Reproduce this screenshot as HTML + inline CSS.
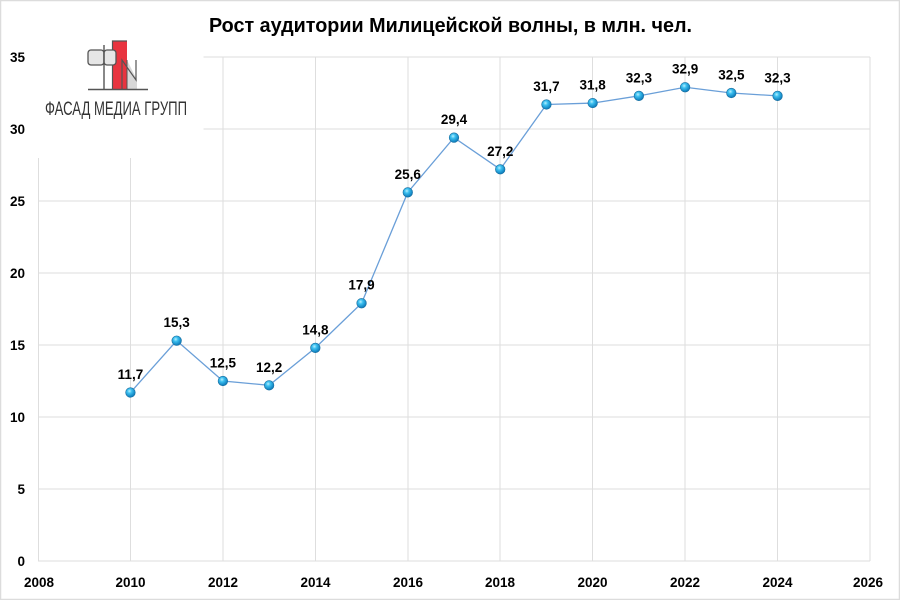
<!DOCTYPE html>
<html><head><meta charset="utf-8"><style>
html,body{margin:0;padding:0;background:#fff;}
svg{display:block;}
text{font-family:"Liberation Sans","DejaVu Sans",sans-serif;}
</style></head><body>
<svg width="900" height="600" viewBox="0 0 900 600" xmlns="http://www.w3.org/2000/svg">
<defs>
<radialGradient id="m" cx="40%" cy="35%" r="65%">
<stop offset="0" stop-color="#b8f0ff"/>
<stop offset="0.35" stop-color="#3cc0f0"/>
<stop offset="1" stop-color="#0a78b8"/>
</radialGradient>
</defs>
<rect x="0.5" y="0.5" width="899" height="599" fill="#fff" stroke="#dcdcdc" stroke-width="1.5"/>
<g stroke="#dedede" stroke-width="1" fill="none">
<line x1="38" y1="561" x2="870" y2="561"/>
<line x1="38" y1="489" x2="870" y2="489"/>
<line x1="38" y1="417" x2="870" y2="417"/>
<line x1="38" y1="345" x2="870" y2="345"/>
<line x1="38" y1="273" x2="870" y2="273"/>
<line x1="38" y1="201" x2="870" y2="201"/>
<line x1="38" y1="129" x2="870" y2="129"/>
<line x1="38" y1="57" x2="870" y2="57"/>
<line x1="38.5" y1="57" x2="38.5" y2="561"/>
<line x1="130.5" y1="57" x2="130.5" y2="561"/>
<line x1="223" y1="57" x2="223" y2="561"/>
<line x1="315.5" y1="57" x2="315.5" y2="561"/>
<line x1="408" y1="57" x2="408" y2="561"/>
<line x1="500" y1="57" x2="500" y2="561"/>
<line x1="592.5" y1="57" x2="592.5" y2="561"/>
<line x1="685" y1="57" x2="685" y2="561"/>
<line x1="777.5" y1="57" x2="777.5" y2="561"/>
<line x1="870" y1="57" x2="870" y2="561"/>
</g>
<!-- logo backdrop -->
<rect x="36" y="36" width="167.5" height="122" fill="#fff"/>
<!-- logo -->
<g>
<rect x="113" y="41" width="14" height="48" fill="#e8343f"/>
<path d="M112.5 89 V41 H127" stroke="#555" stroke-width="1.2" fill="none"/>
<rect x="88" y="50" width="16" height="15" rx="3" fill="#e6e6e6" stroke="#555" stroke-width="1.3"/>
<rect x="104" y="50" width="12" height="15" rx="3" fill="#e6e6e6" stroke="#555" stroke-width="1.3"/>
<line x1="104" y1="45" x2="104" y2="89" stroke="#555" stroke-width="1.4"/>
<polygon points="127,89 127,60 137,80 137,89" fill="#d8d8d8"/>
<path d="M122 89 V60 L136 80 V60" stroke="#555" stroke-width="1.2" fill="none"/>
<path d="M127 60 V89" stroke="#555" stroke-width="1" fill="none"/>
<line x1="88" y1="89.5" x2="148" y2="89.5" stroke="#555" stroke-width="1.4"/>
<text x="45" y="115" font-size="19" fill="#333" textLength="142" lengthAdjust="spacingAndGlyphs">ФАСАД МЕДИА ГРУПП</text>
</g>
<!-- title -->
<text x="209" y="32" font-size="20" font-weight="bold" fill="#000" textLength="483" lengthAdjust="spacingAndGlyphs">Рост аудитории Милицейской волны, в млн. чел.</text>
<!-- y labels -->
<g font-size="13.5" font-weight="bold" fill="#000" text-anchor="end">
<text x="25" y="566">0</text>
<text x="25" y="494">5</text>
<text x="25" y="422">10</text>
<text x="25" y="350">15</text>
<text x="25" y="278">20</text>
<text x="25" y="206">25</text>
<text x="25" y="134">30</text>
<text x="25" y="62">35</text>
</g>
<!-- x labels -->
<g font-size="13.5" font-weight="bold" fill="#000" text-anchor="middle">
<text x="39" y="587">2008</text>
<text x="130.5" y="587">2010</text>
<text x="223" y="587">2012</text>
<text x="315.5" y="587">2014</text>
<text x="408" y="587">2016</text>
<text x="500" y="587">2018</text>
<text x="592.5" y="587">2020</text>
<text x="685" y="587">2022</text>
<text x="777.5" y="587">2024</text>
<text x="868" y="587">2026</text>
</g>
<!-- series line -->
<polyline fill="none" stroke="#6a9fd8" stroke-width="1.3" points="130.44,392.52 176.67,340.68 222.89,381 269.11,385.32 315.33,347.88 361.56,303.24 407.78,192.36 454,137.64 500.22,169.32 546.44,104.52 592.67,103.08 638.89,95.88 685.11,87.24 731.33,93 777.56,95.88"/>
<!-- markers -->
<g fill="url(#m)" stroke="#1a6fa0" stroke-width="0.6">
<circle cx="130.44" cy="392.52" r="4.8"/>
<circle cx="176.67" cy="340.68" r="4.8"/>
<circle cx="222.89" cy="381" r="4.8"/>
<circle cx="269.11" cy="385.32" r="4.8"/>
<circle cx="315.33" cy="347.88" r="4.8"/>
<circle cx="361.56" cy="303.24" r="4.8"/>
<circle cx="407.78" cy="192.36" r="4.8"/>
<circle cx="454" cy="137.64" r="4.8"/>
<circle cx="500.22" cy="169.32" r="4.8"/>
<circle cx="546.44" cy="104.52" r="4.8"/>
<circle cx="592.67" cy="103.08" r="4.8"/>
<circle cx="638.89" cy="95.88" r="4.8"/>
<circle cx="685.11" cy="87.24" r="4.8"/>
<circle cx="731.33" cy="93" r="4.8"/>
<circle cx="777.56" cy="95.88" r="4.8"/>
</g>
<!-- data labels -->
<g font-size="13.5" font-weight="bold" fill="#000" text-anchor="middle">
<text x="130.44" y="379">11,7</text>
<text x="176.67" y="327">15,3</text>
<text x="222.89" y="367.5">12,5</text>
<text x="269.11" y="371.8">12,2</text>
<text x="315.33" y="334.4">14,8</text>
<text x="361.56" y="289.7">17,9</text>
<text x="407.78" y="178.9">25,6</text>
<text x="454" y="124.1">29,4</text>
<text x="500.22" y="155.8">27,2</text>
<text x="546.44" y="91">31,7</text>
<text x="592.67" y="89.6">31,8</text>
<text x="638.89" y="82.4">32,3</text>
<text x="685.11" y="73.7">32,9</text>
<text x="731.33" y="79.5">32,5</text>
<text x="777.56" y="82.4">32,3</text>
</g>
</svg>
</body></html>
